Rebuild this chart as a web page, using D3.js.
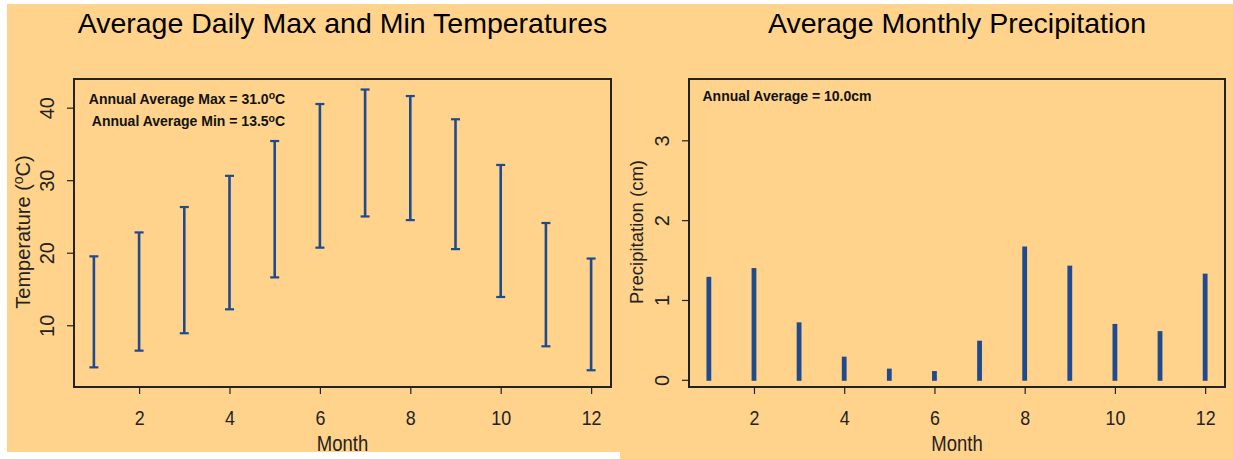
<!DOCTYPE html>
<html><head><meta charset="utf-8">
<script src="https://cdn.jsdelivr.net/npm/d3@7"></script>
<style>html,body{margin:0;padding:0;background:#fff;}svg{display:block;}</style>
</head><body>
<svg id="chart" width="1233" height="459"></svg>
<script>
const months = [1,2,3,4,5,6,7,8,9,10,11,12];
const tempMax = [19.5,22.8,26.3,30.6,35.4,40.5,42.5,41.6,38.4,32.1,24.1,19.2];
const tempMin = [4.2,6.5,8.9,12.2,16.6,20.7,25.0,24.5,20.5,13.9,7.1,3.8];
const precip = [1.29,1.40,0.72,0.29,0.14,0.11,0.49,1.67,1.43,0.70,0.61,1.33];
const xTicks = [2,4,6,8,10,12];
const tempTicks = [10,20,30,40];
const precipTicks = [0,1,2,3];
const titles = ["Average Daily Max and Min Temperatures","Average Monthly Precipitation"];

const BG = "#FFD38B", BLUE = "#1F4A8E", INK = "#222";
const SANS = "Liberation Sans, Arial, sans-serif";
const svg = d3.select("#chart");
svg.append("rect").attr("x",7).attr("y",4).attr("width",613).attr("height",448).attr("fill",BG);
svg.append("rect").attr("x",620).attr("y",4).attr("width",613).attr("height",455).attr("fill",BG);

function panel(opts){
  const g = svg.append("g");
  const x = d3.scaleLinear().domain([0.56,12.44]).range([opts.left,opts.right]);
  const y = d3.scaleLinear().domain(opts.ydomain).range([387,79]);
  g.append("text").attr("x",(opts.left+opts.right)/2).attr("y",33)
    .attr("text-anchor","middle").attr("font-family",SANS)
    .attr("font-size",28.5).attr("fill","#000").text(opts.title);
  const xa = g.append("g").attr("transform","translate(0,388)")
    .call(d3.axisBottom(x).tickValues(xTicks).tickSize(6).tickPadding(16).tickFormat(d3.format("d")));
  xa.select(".domain").remove();
  xa.selectAll("line").attr("stroke",INK).attr("stroke-width",1.2);
  xa.selectAll(".tick text").attr("font-family",SANS).attr("font-size",21).attr("fill",INK)
    .attr("transform","scale(0.85,1)");
  const ya = g.append("g").attr("transform",`translate(${opts.left-1},0)`)
    .call(d3.axisLeft(y).tickValues(opts.yticks).tickSize(6).tickFormat(d3.format("d")));
  ya.select(".domain").remove();
  ya.selectAll("line").attr("stroke",INK).attr("stroke-width",1.2);
  ya.selectAll(".tick text").attr("font-family",SANS).attr("font-size",20).attr("fill",INK)
    .attr("text-anchor","middle").attr("x",0).attr("y",0).attr("dy","0.35em")
    .attr("transform",`translate(${-opts.labelOff},0) rotate(-90)`);
  g.append("g").attr("transform",`translate(${(opts.left+opts.right)/2},451)`)
    .append("text").attr("transform","scale(0.86,1)").attr("text-anchor","middle")
    .attr("font-family",SANS).attr("font-size",21.5).attr("fill",INK).text("Month");
  const yl = g.append("text").attr("transform",`translate(${opts.ylabX},232) rotate(-90)`).attr("text-anchor","middle")
    .attr("font-family",SANS).attr("font-size",opts.ylabSize).attr("fill",INK);
  opts.ylabel(yl);
  g.append("rect").attr("x",opts.left).attr("y",79).attr("width",opts.right-opts.left).attr("height",308)
    .attr("fill","none").attr("stroke",INK).attr("stroke-width",2);
  return {g,x,y};
}

const L = panel({left:74,right:611,ydomain:[1.49,43.95],yticks:tempTicks,labelOff:26,ylabX:30,ylabSize:20,title:titles[0],
  ylabel:t=>{t.append("tspan").text("Temperature (");t.append("tspan").attr("font-size",14).attr("dy",-7).text("o");t.append("tspan").attr("dy",7).text("C)");}});
const bars = L.g.append("g");
months.forEach((m,i)=>{
  bars.append("line").attr("x1",L.x(m)).attr("x2",L.x(m)).attr("y1",L.y(tempMax[i])).attr("y2",L.y(tempMin[i]))
    .attr("stroke",BLUE).attr("stroke-width",2.6);
  [tempMax[i],tempMin[i]].forEach(v=>{
    bars.append("line").attr("x1",L.x(m)-4.5).attr("x2",L.x(m)+4.5).attr("y1",L.y(v)).attr("y2",L.y(v))
      .attr("stroke",BLUE).attr("stroke-width",2.2);
  });
});
const ann = L.g.append("g").attr("font-family",SANS).attr("font-weight","bold")
  .attr("font-size",14).attr("fill","#111").attr("text-anchor","middle");
const a1 = ann.append("text").attr("x",187).attr("y",103.5);
a1.append("tspan").text("Annual Average Max = 31.0");a1.append("tspan").attr("font-size",10.5).attr("dy",-4.5).text("o");a1.append("tspan").attr("dy",4.5).text("C");
const a2 = ann.append("text").attr("x",188.5).attr("y",126);
a2.append("tspan").text("Annual Average Min = 13.5");a2.append("tspan").attr("font-size",10.5).attr("dy",-4.5).text("o");a2.append("tspan").attr("dy",4.5).text("C");

const R = panel({left:689,right:1225,ydomain:[-0.09,3.768],yticks:precipTicks,labelOff:26,ylabX:643,ylabSize:18.5,title:titles[1],
  ylabel:t=>t.text("Precipitation (cm)")});
R.g.append("g").selectAll("line").data(months).join("line")
  .attr("x1",d=>R.x(d)).attr("x2",d=>R.x(d)).attr("y1",R.y(0)+1).attr("y2",(d,i)=>R.y(precip[i]))
  .attr("stroke",BLUE).attr("stroke-width",4.8);
R.g.append("text").attr("x",787).attr("y",101).attr("text-anchor","middle")
  .attr("font-family",SANS).attr("font-weight","bold").attr("font-size",14).attr("fill","#111")
  .text("Annual Average = 10.0cm");
</script>
</body></html>
